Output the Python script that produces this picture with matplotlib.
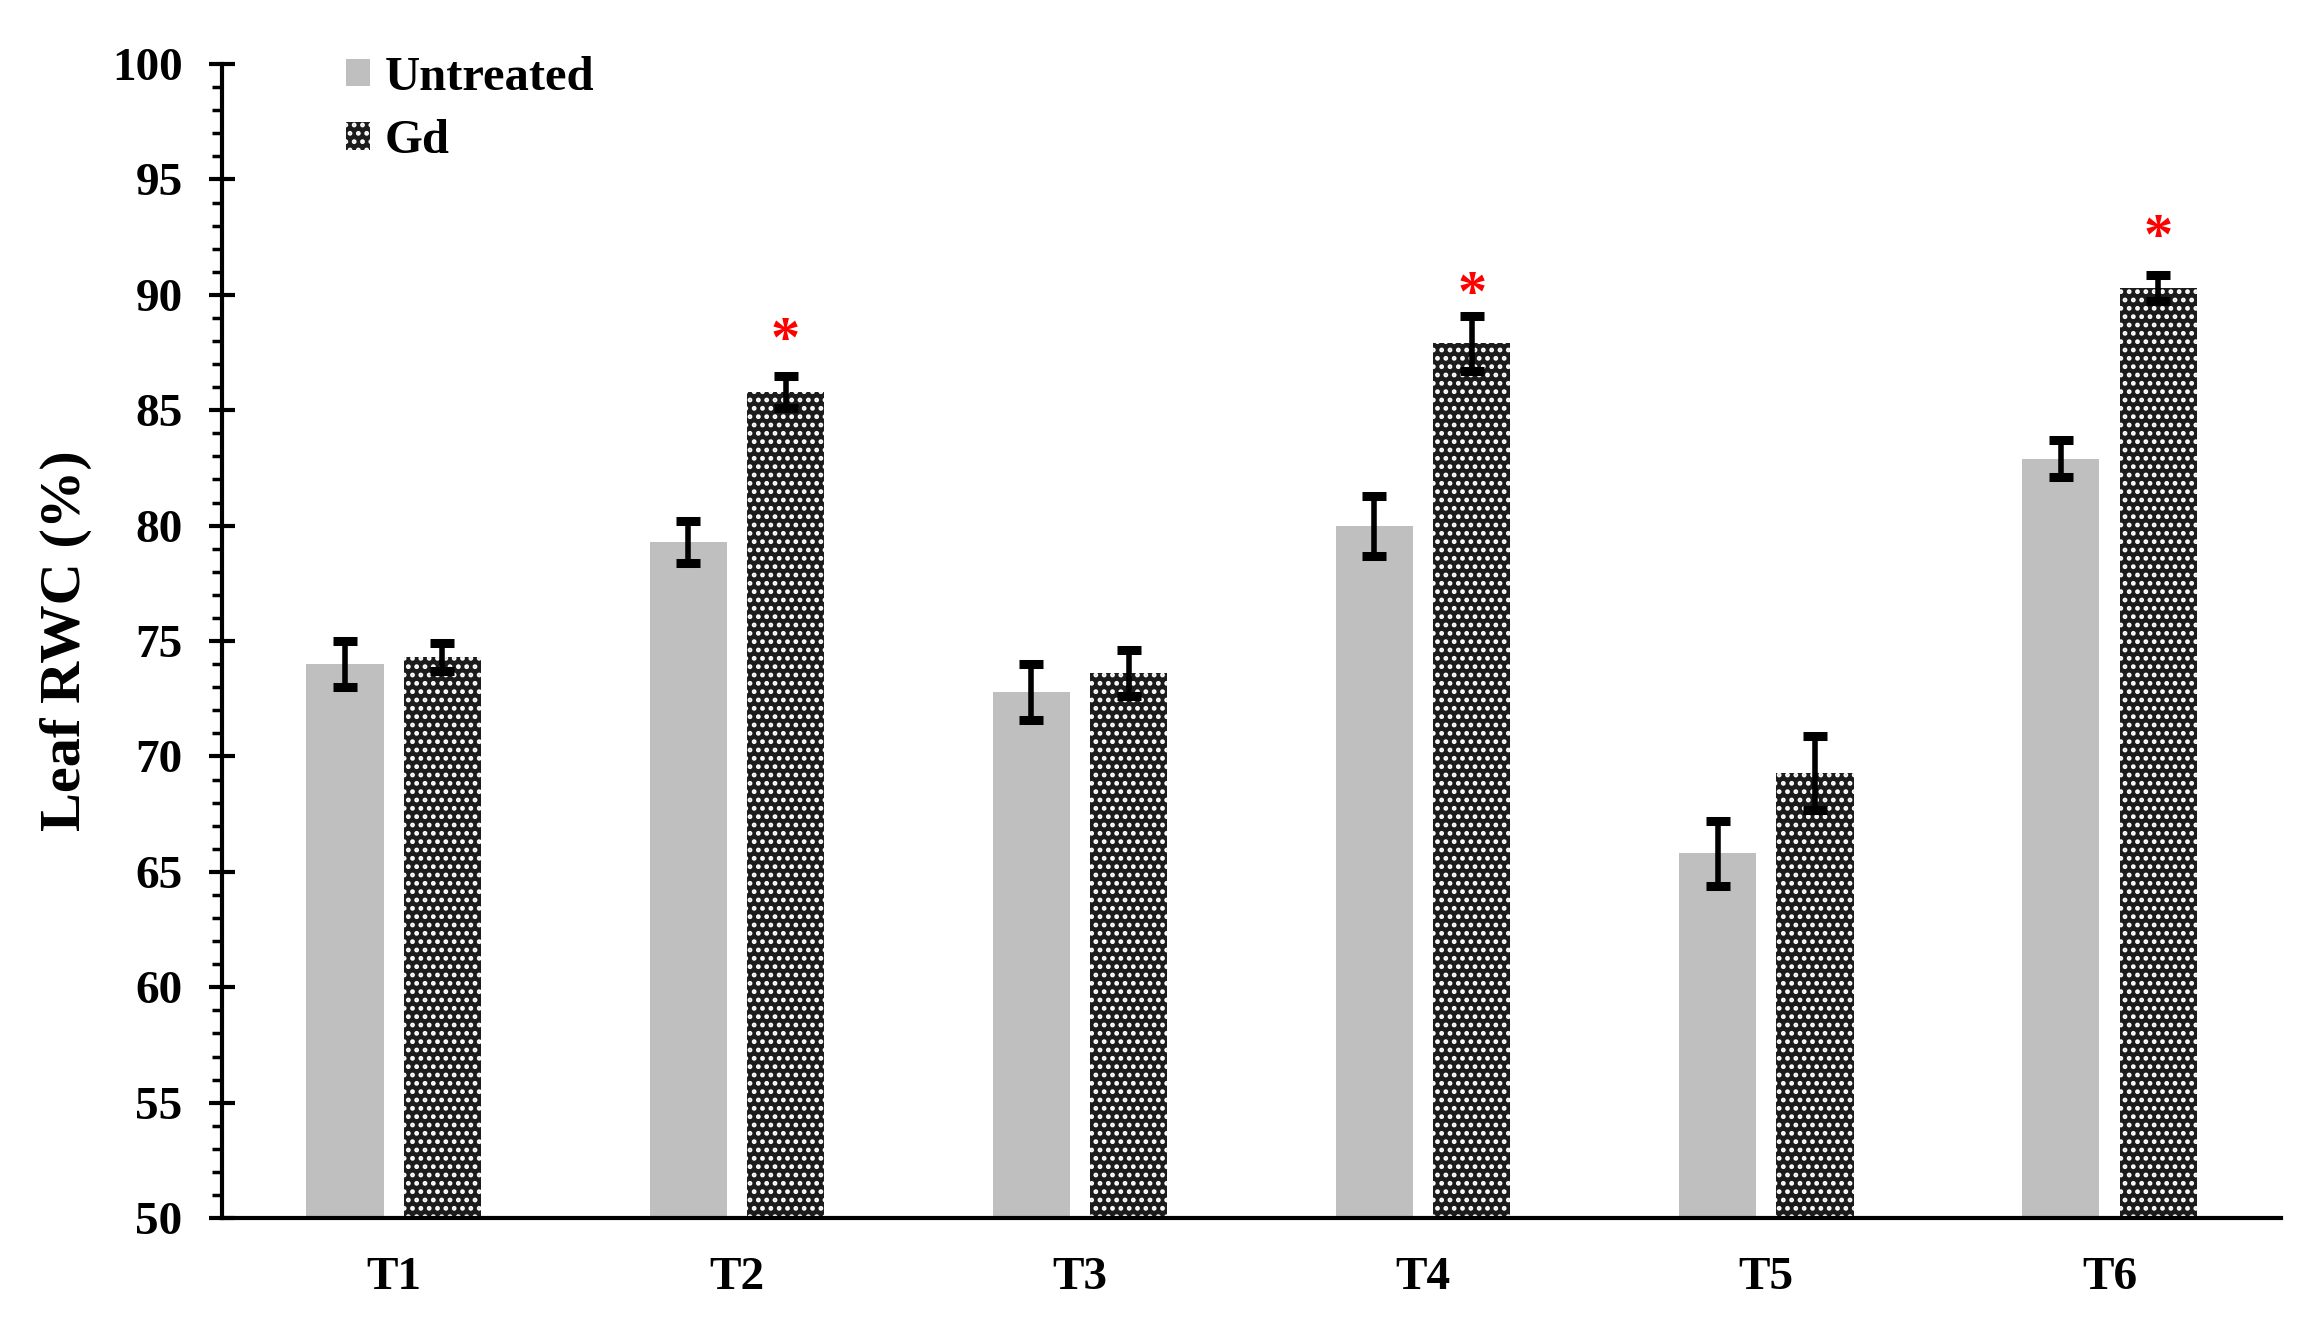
import matplotlib
matplotlib.use('Agg')
import matplotlib.pyplot as plt
import numpy as np
from matplotlib.ticker import MultipleLocator

plt.rcParams['font.family'] = ['Liberation Serif', 'DejaVu Serif']
plt.rcParams['font.weight'] = 'bold'
plt.rcParams['hatch.color'] = 'white'
plt.rcParams['hatch.linewidth'] = 2.2

# data
groups = ['T1', 'T2', 'T3', 'T4', 'T5', 'T6']
untreated = [74.0, 79.3, 72.8, 80.0, 65.8, 82.9]
untreated_err = [1.0, 0.9, 1.2, 1.3, 1.4, 0.8]
gd = [74.3, 85.8, 73.6, 87.9, 69.3, 90.3]
gd_err = [0.6, 0.7, 1.0, 1.2, 1.6, 0.55]
signif = [False, True, False, True, False, True]
star_y = [None, 88.6, None, 90.6, None, 93.1]

x = np.arange(len(groups))
w = 0.225
off = 0.142

fig = plt.figure(figsize=(23.16, 13.26), dpi=100)
ax = fig.add_axes([0.0959, 0.0814, 0.889, 0.8703])

ax.bar(x - off, untreated, w, color='#bfbfbf', label='Untreated', zorder=2)
ax.bar(x + off, gd, w, color='#1c1c1c', edgecolor='white', linewidth=0,
       hatch='..', label='Gd', zorder=2)

ekw = dict(fmt='none', ecolor='black', elinewidth=4, capsize=8.5, capthick=6.5, zorder=3)
ax.errorbar(x - off, untreated, yerr=untreated_err, **ekw)
ax.errorbar(x + off, gd, yerr=gd_err, **ekw)

# asterisks for significant groups
for i in range(len(groups)):
    if signif[i]:
        ax.annotate('*', (x[i] + off, star_y[i]), xytext=(0, -11),
                    textcoords='offset points', color='red', fontsize=42,
                    ha='center', va='center', fontweight='bold')

ax.set_xlim(-0.5, 5.5)
ax.set_ylim(50, 100)
ax.set_xticks(x)
ax.set_xticklabels(groups)
ax.yaxis.set_major_locator(MultipleLocator(5))
ax.yaxis.set_minor_locator(MultipleLocator(1))

for s in ['top', 'right']:
    ax.spines[s].set_visible(False)
for s in ['left', 'bottom']:
    ax.spines[s].set_linewidth(3)

ax.tick_params(axis='y', which='major', direction='inout', length=19, width=3,
               labelsize=34, pad=19)
ax.tick_params(axis='y', which='minor', direction='out', length=7, width=2.5)
ax.tick_params(axis='x', length=0, labelsize=34, pad=28)

ax.set_ylabel('Leaf RWC (%)', fontsize=42, fontweight='bold', labelpad=14)

leg = ax.legend(loc='upper left', bbox_to_anchor=(0.039, 1.045), frameon=False,
                fontsize=35, handlelength=0.5, handleheight=0.5,
                handletextpad=0.3, labelspacing=0.4)

fig.savefig('out.png', dpi=100)
